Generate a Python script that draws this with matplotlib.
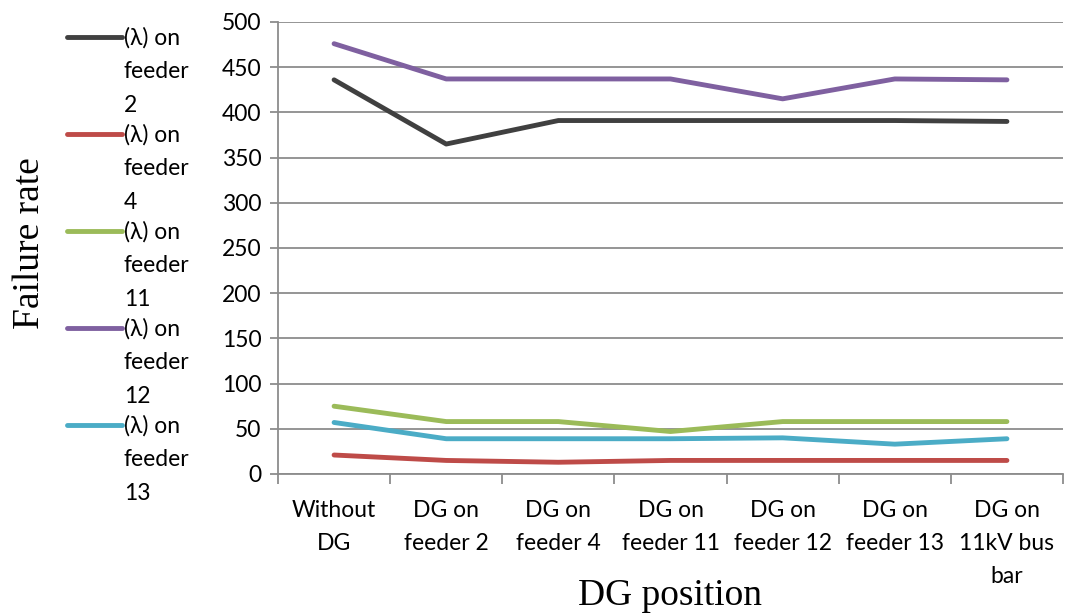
import matplotlib.pyplot as plt
from matplotlib.lines import Line2D

categories = ["Without\nDG", "DG on\nfeeder 2", "DG on\nfeeder 4", "DG on\nfeeder 11",
              "DG on\nfeeder 12", "DG on\nfeeder 13", "DG on\n11kV bus\nbar"]
feeder2 = [436, 365, 391, 391, 391, 391, 390]
feeder4 = [21, 15, 13, 15, 15, 15, 15]
feeder11 = [75, 58, 58, 47, 58, 58, 58]
feeder12 = [476, 437, 437, 437, 415, 437, 436]
feeder13 = [57, 39, 39, 39, 40, 33, 39]

series = [
    ("(λ) on\nfeeder\n2", feeder2, "#404040"),
    ("(λ) on\nfeeder\n4", feeder4, "#BE4B48"),
    ("(λ) on\nfeeder\n11", feeder11, "#9BBB59"),
    ("(λ) on\nfeeder\n12", feeder12, "#7F60A0"),
    ("(λ) on\nfeeder\n13", feeder13, "#4BACC6"),
]

W, H = 1070, 615
fig = plt.figure(figsize=(W / 100, H / 100), dpi=100)
ax = fig.add_axes([278 / W, 1 - 474 / H, (1063 - 278) / W, (474 - 22) / H])

x = list(range(len(categories)))
for label, vals, color in series:
    ax.plot(x, vals, color=color, lw=3.5, solid_capstyle="round", solid_joinstyle="round")

grid_c = "#8C8C8C"
fs = 16.5
ax.set_xlim(-0.5, len(categories) - 0.5)
ax.set_ylim(0, 500)
ax.set_yticks(range(0, 501, 50))
ax.yaxis.grid(True, color=grid_c, lw=1.3)
ax.set_axisbelow(True)
for s in ["top", "right"]:
    ax.spines[s].set_visible(False)
for s in ["left", "bottom"]:
    ax.spines[s].set_color(grid_c)
    ax.spines[s].set_linewidth(1.3)

ax.set_xticks(x)
ax.set_xticklabels(categories, fontsize=fs, family="Lato", linespacing=1.7)
ax.tick_params(axis="x", which="major", length=0, pad=19)
ax.set_xticks([i + 0.5 for i in range(-1, len(categories))], minor=True)
ax.tick_params(axis="x", which="minor", length=7, color=grid_c, width=1.3)
ax.tick_params(axis="y", length=6, color=grid_c, width=1.3, labelsize=fs, pad=6)
for t in ax.get_yticklabels():
    t.set_family("Lato")

ax.set_xlabel("DG position", family="Liberation Serif", fontsize=27, labelpad=-6)
fig.text(30 / W, 1 - 243 / H, "Failure rate", family="Liberation Serif", fontsize=27,
         rotation=90, ha="center", va="center")

# legend drawn by hand so the line sits next to the first text line
for i, (label, vals, color) in enumerate(series):
    yc = 37 + i * 97
    fig.add_artist(Line2D([67 / W, 122 / W], [1 - yc / H, 1 - yc / H],
                          color=color, lw=3.5, solid_capstyle="round"))
    fig.text(124 / W, 1 - (yc - 10) / H, label, family="Lato", fontsize=fs,
             ha="left", va="top", linespacing=1.75)

fig.savefig("out.png", dpi=100)
